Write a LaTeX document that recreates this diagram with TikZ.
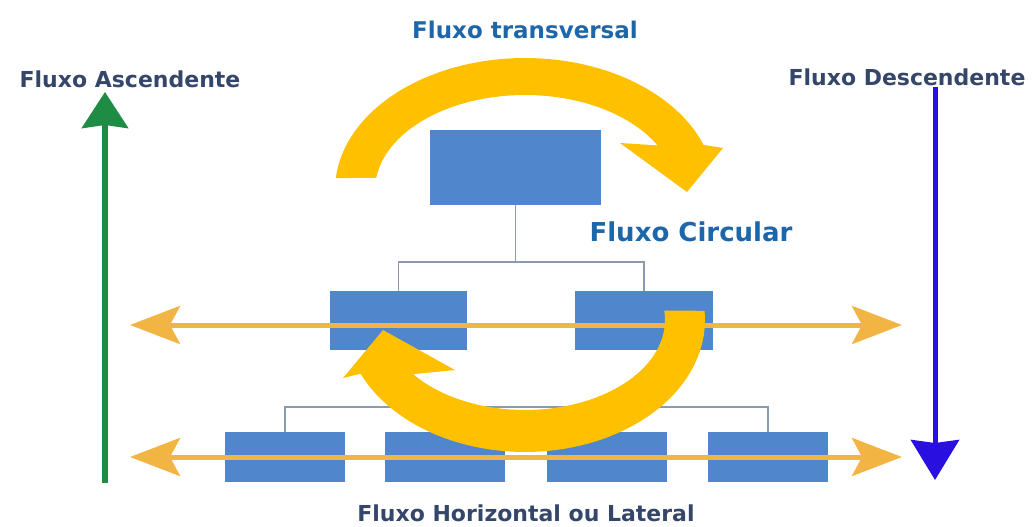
\documentclass[tikz,border=0pt]{standalone}
\usepackage{fontspec}
\setmainfont{DejaVu Sans}
\usetikzlibrary{arrows.meta}
\definecolor{boxblue}{HTML}{4F86CC}
\definecolor{treegray}{HTML}{8A9BB0}
\definecolor{lightorange}{HTML}{F2B544}
\definecolor{gold}{HTML}{FFC000}
\definecolor{darkslate}{HTML}{34466A}
\definecolor{titleblue}{HTML}{1E66AA}
\definecolor{upgreen}{HTML}{1E8C45}
\definecolor{downblue}{HTML}{2A10E0}
\tikzset{
  orgbox/.style={fill=boxblue, draw=none, inner sep=0pt},
  treeline/.style={draw=treegray, line width=1.5pt},
  latarrow/.style={draw=lightorange, line width=5pt, {Stealth[length=50pt,width=38pt,inset=10pt]}-{Stealth[length=50pt,width=38pt,inset=10pt]}},
  lbl/.style={font=\bfseries\fontsize{22}{26}\selectfont, text=darkslate, inner sep=0pt, anchor=base},
  ttl/.style={font=\bfseries\fontsize{23}{27}\selectfont, text=titleblue, inner sep=0pt, anchor=base},
}
\begin{document}
\begin{tikzpicture}[x=1pt,y=-1pt]
\useasboundingbox (0,0) rectangle (1034,527);
% boxes
\node[orgbox, minimum width=171pt, minimum height=75pt] (top) at (515.5,167.5) {};
\node[orgbox, minimum width=137pt, minimum height=59pt] (ml) at (398.5,320.5) {};
\node[orgbox, minimum width=138pt, minimum height=59pt] (mr) at (644,320.5) {};
\node[orgbox, minimum width=120pt, minimum height=50pt] (b1) at (285,457) {};
\node[orgbox, minimum width=120pt, minimum height=50pt] (b2) at (445,457) {};
\node[orgbox, minimum width=120pt, minimum height=50pt] (b3) at (607,457) {};
\node[orgbox, minimum width=120pt, minimum height=50pt] (b4) at (768,457) {};
% tree lines
\draw[treeline] (top.south) -- ++(0,57) -| (ml.north);
\draw[treeline] (top.south) ++(0,57) -| (mr.north);
\draw[treeline] (ml.south) -- ++(0,57) -| (b1.north);
\draw[treeline] (ml.south) ++(0,57) -| (b4.north);
\draw[treeline] (b2.north) -- ++(0,-25);
\draw[treeline] (b3.north) -- ++(0,-25);
% lateral arrows
\coordinate (l1) at (130,325); \coordinate (r1) at (902,325);
\coordinate (l2) at (130,457); \coordinate (r2) at (902,457);
\draw[latarrow] (l1) -- (r1);
\draw[latarrow] (l2) -- (r2);
% vertical arrows
\coordinate (g0) at (105,483); \coordinate (g1) at (105,92);
\draw[upgreen, line width=6pt, -{Stealth[length=36pt,width=46pt,inset=3pt]}] (g0) -- (g1);
\coordinate (d0) at (935,87); \coordinate (d1) at (935,480);
\draw[downblue, line width=5pt, -{Stealth[length=40pt,width=48pt,inset=3pt]}] (d0) -- (d1);
% transversal arrow
\fill[gold] plot[domain=174.8:20,samples=60] ({525+190*cos(\x)},{190-132*sin(\x)})
  -- (723,148) -- (687,192) -- (620,143)
  -- plot[domain=28:172.7,samples=60] ({525+150*cos(\x)},{190-95*sin(\x)}) -- cycle;
% circular arrow
\fill[gold] plot[domain=-4:156,samples=60] ({525+180*cos(\x)},{320+132*sin(\x)})
  -- (343,378) -- (383,330) -- (455,370)
  -- plot[domain=143:-6,samples=60] ({525+140*cos(\x)},{320+90*sin(\x)}) -- cycle;
% labels
\node[lbl] (asc) at (130,88) {Fluxo Ascendente};
\node[lbl] (desc) at (907,85) {Fluxo Descendente};
\node[ttl] (trans) at (525,39) {Fluxo transversal};
\node[ttl, font=\bfseries\fontsize{26}{30}\selectfont] (circ) at (691,241) {Fluxo Circular};
\node[lbl, font=\bfseries\fontsize{22}{26}\selectfont] (hor) at (526,521) {Fluxo Horizontal ou Lateral};
\end{tikzpicture}
\end{document}
